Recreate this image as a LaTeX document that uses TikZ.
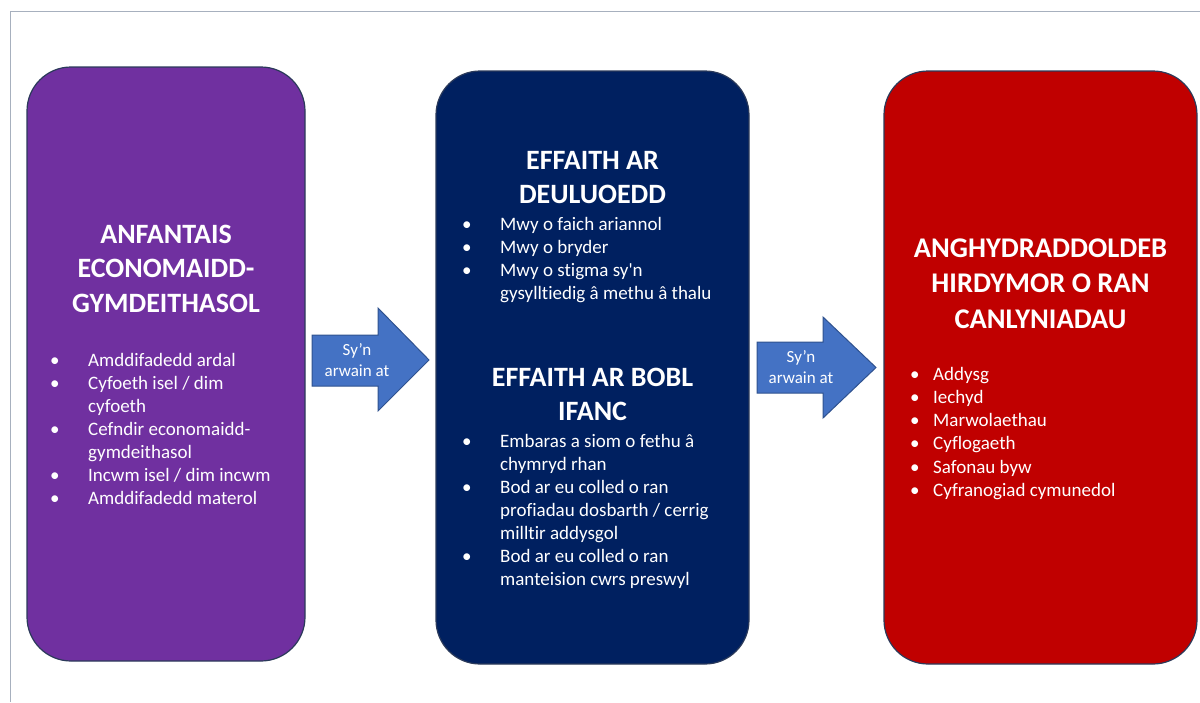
\documentclass[tikz,border=0pt]{standalone}
\usepackage{fontspec}
\newfontfamily\carlito{Carlito}[Ligatures=NoCommon]

\definecolor{porffor}{HTML}{7030A0}
\definecolor{glasnos}{HTML}{002060}
\definecolor{coch}{HTML}{C00000}
\definecolor{glassaeth}{HTML}{4472C4}
\definecolor{ymylsaeth}{HTML}{2F528F}
\definecolor{ymyl}{HTML}{2B3A5A}
\definecolor{ffram}{HTML}{A7B0BE}

% bullet with hanging indent
\newcommand{\pwynt}[2][38pt]{\hangindent=#1\hangafter=1\noindent\makebox[#1][l]{•}#2\par}

\begin{document}
\begin{tikzpicture}[x=1pt, y=-1pt,
    blwch/.style={draw=ymyl, line width=1.2pt, rounded corners=44pt},
    teitl/.style={text=white, font={\carlito\bfseries\fontsize{28}{34.5}\selectfont},
        text width=300pt, align=flush center, anchor=base, inner sep=0pt},
    rhestr/.style={text=white, font={\carlito\fontsize{19}{23}\selectfont},
        text width=280pt, align=flush left, anchor=base west, inner sep=0pt},
    saeth/.style={fill=glassaeth, draw=ymylsaeth, line width=1pt},
    testunsaeth/.style={text=white, font={\carlito\fontsize{17}{21}\selectfont},
        text width=90pt, align=flush center, anchor=base, inner sep=0pt}]
    \useasboundingbox (0,0) rectangle (1200,702);
    \draw[ffram, line width=1.2pt] (10.5,702) -- (10.5,11.5) -- (1200,11.5);

    % the three boxes
    \node[blwch, fill=porffor, minimum width=278pt, minimum height=594pt] (anfantais) at (166,364) {};
    \node[blwch, fill=glasnos, minimum width=313pt, minimum height=593pt] (effaith) at (592.5,367.5) {};
    \node[blwch, fill=coch, minimum width=313pt, minimum height=593pt] (anghydraddoldeb) at (1040.5,367.5) {};

    \node[teitl, text width=270pt] (teitlanf) at (166,243) {ANFANTAIS\\ECONOMAIDD-\\GYMDEITHASOL};
    \node[rhestr] (rhestranf) at (50,366) {%
        \pwynt{Amddifadedd ardal}
        \pwynt{Cyfoeth isel / dim\newline cyfoeth}
        \pwynt{Cefndir economaidd-\newline gymdeithasol}
        \pwynt{Incwm isel / dim incwm}
        \pwynt{Amddifadedd materol}};

    \node[teitl] (teitlteulu) at (592.5,169) {EFFAITH AR\\DEULUOEDD};
    \node[rhestr] (rhestrteulu) at (462,230) {%
        \pwynt{Mwy o faich ariannol}
        \pwynt{Mwy o bryder}
        \pwynt{Mwy o stigma sy'n\newline gysylltiedig â methu â thalu}};

    \node[teitl] (teitlifanc) at (592.5,386) {EFFAITH AR BOBL\\IFANC};
    \node[rhestr] (rhestrifanc) at (462,447) {%
        \pwynt{Embaras a siom o fethu â\newline chymryd rhan}
        \pwynt{Bod ar eu colled o ran\newline profiadau dosbarth / cerrig\newline milltir addysgol}
        \pwynt{Bod ar eu colled o ran\newline manteision cwrs preswyl}};

    \node[teitl, font={\carlito\bfseries\fontsize{28.5}{35.5}\selectfont}] (teitlcan) at (1040.5,257)
        {ANGHYDRADDOLDEB\\HIRDYMOR O RAN\\CANLYNIADAU};
    \node[rhestr, font={\carlito\fontsize{19}{23.3}\selectfont}] (rhestrcan) at (910,380) {%
        \pwynt[23pt]{Addysg}
        \pwynt[23pt]{Iechyd}
        \pwynt[23pt]{Marwolaethau}
        \pwynt[23pt]{Cyflogaeth}
        \pwynt[23pt]{Safonau byw}
        \pwynt[23pt]{Cyfranogiad cymunedol}};

    % arrows
    \filldraw[saeth] (312,335) -- (378,335) -- (378,308) -- (429,360)
        -- (378,411) -- (378,386) -- (312,386) -- cycle;
    \node[testunsaeth] (arwain1) at (357,355) {Sy’n\\arwain at};
    \filldraw[saeth] (757,342) -- (823,342) -- (823,317) -- (876,367.5)
        -- (823,418) -- (823,393) -- (757,393) -- cycle;
    \node[testunsaeth] (arwain2) at (801,362) {Sy’n\\arwain at};
\end{tikzpicture}
\end{document}
